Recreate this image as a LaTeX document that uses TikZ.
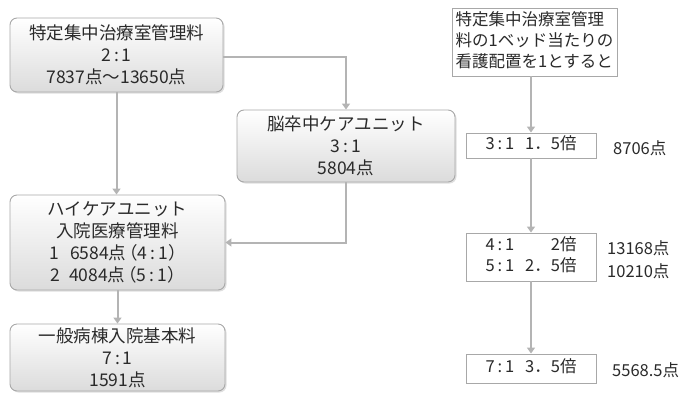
\documentclass[tikz,border=0pt]{standalone}
\usepackage{fontspec}
\usepackage{array}
\newfontfamily\jp{Noto Sans CJK JP}
\usetikzlibrary{arrows.meta,shadows}
\definecolor{txt}{HTML}{2A2A2A}
\definecolor{edge}{HTML}{A8A8A8}
\definecolor{arr}{HTML}{B4B4B4}
\newcommand{\cl}{\hspace{3pt}:\hspace{3pt}}
\newcommand{\rt}[2]{\begin{tabular}{@{}>{\raggedright\arraybackslash}p{38pt}@{}>{\raggedleft\arraybackslash}p{53pt}@{}}#1&#2\end{tabular}}
\begin{document}
\begin{tikzpicture}[x=1pt,y=-1pt,
  lbox/.style={draw=edge,line width=0.9pt,rounded corners=7pt,top color=white,bottom color=black!14,
    drop shadow={shadow xshift=1.5pt,shadow yshift=-1.5pt,opacity=0.25},
    align=center,text=txt,inner sep=0pt,font=\jp\fontsize{17.5}{22}\selectfont},
  rbox/.style={draw=edge,line width=0.9pt,fill=white,inner sep=0pt,text=txt,font=\jp\fontsize{16.5}{18.5}\selectfont},
  lab/.style={anchor=west,inner sep=0pt,text=txt,font=\jp\fontsize{16.5}{19}\selectfont},
  conn/.style={draw=arr,line width=2pt,-{Triangle[width=8pt,length=6pt]}}
]
\useasboundingbox (0,0) rectangle (682,394);
% left column
\node[lbox,minimum width=213pt,minimum height=74pt] (A) at (116.5,55) {特定集中治療室管理料\\2\cl1\\7837点～13650点};
\node[lbox,minimum width=218pt,minimum height=72pt] (B) at (346,146) {脳卒中ケアユニット\\3\cl1\\5804点};
\node[lbox,minimum width=215pt,minimum height=95pt] (C) at (117.5,242.5) {ハイケアユニット\\入院医療管理料\\1\hspace{11pt}6584点\hspace{-6pt}（4\cl1）\\2\hspace{9pt}4084点\hspace{-6pt}（5\cl1）};
\node[lbox,minimum width=215pt,minimum height=67pt] (D) at (117.5,357.5) {一般病棟入院基本料\\7\cl1\\1591点};
\draw[conn] (A.south) -- (A.south |- C.north);
\draw[conn] (A.east |- 0,57) -| (B.north);
\draw[conn] (B.south) |- (C.east);
\draw[conn] (C.south) -- (C.south |- D.north);
% right column
\node[rbox,minimum width=165pt,minimum height=68pt] (R1) at (534.5,42) {\begin{tabular}{@{}l@{}}特定集中治療室管理\\[1.5pt]料の1ベッド当たりの\\[1.5pt]看護配置を1とすると\end{tabular}};
\node[rbox,minimum width=130pt,minimum height=25pt] (R2) at (531,145.5) {\rt{3\cl1}{1．5倍}};
\node[rbox,minimum width=130pt,minimum height=48pt] (R3) at (531,257) {\begin{tabular}{@{}>{\raggedright\arraybackslash}p{38pt}@{}>{\raggedleft\arraybackslash}p{53pt}@{}}4\cl1&2倍\\[2pt]5\cl1&2．5倍\end{tabular}};
\node[rbox,minimum width=130pt,minimum height=29pt] (R4) at (531,368.5) {\rt{7\cl1}{3．5倍}};
\draw[conn] (R2.north |- R1.south) -- (R2.north);
\draw[conn] (R2.south) -- (R3.north);
\draw[conn] (R3.south) -- (R4.north);
\node[lab] (L1) at (613,148) {8706点};
\node[lab] (L2) at (607,248) {13168点};
\node[lab] (L3) at (607,271) {10210点};
\node[lab] (L4) at (612,370) {5568.5点};
\end{tikzpicture}
\end{document}
